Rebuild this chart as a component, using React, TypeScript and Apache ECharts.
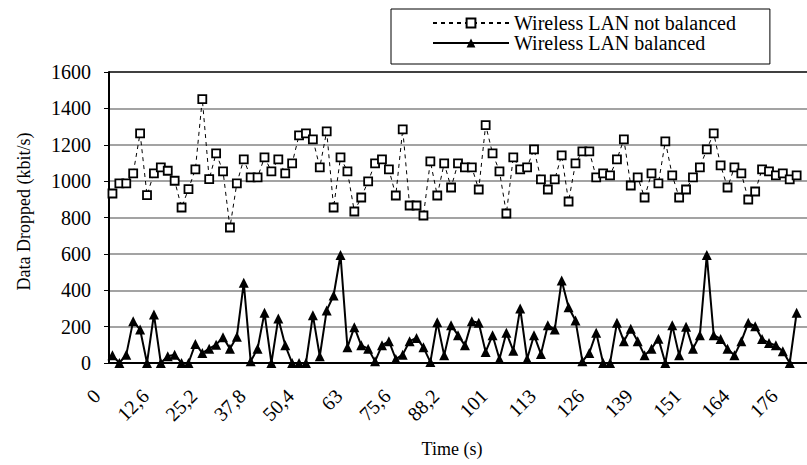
import React, { useEffect, useRef } from "react";
import * as echarts from "echarts";

// Time (s), one category every 1.8 s
const timeLabels = [
  "0", "1,8", "3,6", "5,4", "7,2", "9", "10,8", "12,6", "14,4", "16,2",
  "18", "19,8", "21,6", "23,4", "25,2", "27", "28,8", "30,6", "32,4", "34,2",
  "36", "37,8", "39,6", "41,4", "43,2", "45", "46,8", "48,6", "50,4", "52,2",
  "54", "55,8", "57,6", "59,4", "61,2", "63", "64,8", "66,6", "68,4", "70,2",
  "72", "73,8", "75,6", "77,4", "79,2", "81", "82,8", "84,6", "86,4", "88,2",
  "90", "91,8", "93,6", "95,4", "97,2", "99", "101", "103", "104", "106",
  "108", "110", "112", "113", "115", "117", "119", "121", "122", "124",
  "126", "128", "130", "131", "133", "135", "137", "139", "140", "142",
  "144", "146", "148", "149", "151", "153", "155", "157", "158", "160",
  "162", "164", "166", "167", "169", "171", "173", "175", "176", "178",
  "180",
];

const notBalanced = [
  932, 988, 988, 1043, 1263, 923, 1043, 1076, 1057, 1002,
  855, 956, 1065, 1451, 1011, 1153, 1054, 745, 988, 1120,
  1021, 1021, 1131, 1054, 1120, 1043, 1098, 1252, 1263, 1230,
  1076, 1274, 855, 1131, 1054, 833, 910, 999, 1098, 1120,
  1065, 921, 1285, 866, 866, 811, 1109, 921, 1098, 965,
  1098, 1076, 1076, 954, 1308, 1153, 1054, 822, 1131, 1065,
  1076, 1175, 1010, 954, 1010, 1142, 888, 1098, 1164, 1164,
  1021, 1043, 1032, 1120, 1230, 976, 1021, 910, 1043, 988,
  1219, 1032, 910, 954, 1021, 1076, 1175, 1263, 1087, 965,
  1076, 1043, 899, 943, 1065, 1054, 1032, 1043, 1010, 1032,
];

const balanced = [
  42, 0, 46, 230, 184, 0, 267, 0, 37, 46,
  0, 0, 105, 55, 79, 101, 142, 79, 145, 441,
  9, 79, 276, 0, 245, 97, 0, 0, 0, 263,
  37, 289, 371, 594, 86, 197, 97, 79, 9, 97,
  120, 22, 46, 120, 138, 86, 5, 224, 42, 208,
  153, 97, 230, 221, 61, 153, 22, 166, 68, 300,
  22, 153, 50, 208, 184, 454, 307, 234, 9, 55,
  166, 0, 0, 221, 120, 189, 120, 42, 79, 134,
  0, 208, 42, 199, 79, 153, 594, 153, 132, 79,
  42, 120, 221, 202, 132, 110, 97, 64, 0, 276,
];

const seriesNames = ["Wireless LAN not balanced", "Wireless LAN balanced"];

export default function App() {
  const ref = useRef<HTMLDivElement>(null);
  useEffect(() => {
    document.body.style.margin = "0";
    const chart = echarts.init(ref.current as HTMLDivElement, null, { renderer: "svg" });
    const font = "'Liberation Serif', 'Times New Roman', serif";
    const gridColors = ["#858585", "#858585", "#858585", "#858585", "#858585", "#858585", "#858585", "#858585", "#000000"];
    chart.setOption({
      animation: false,
      backgroundColor: "#ffffff",
      textStyle: { fontFamily: font, color: "#000" },
      grid: { left: 109, right: 0, top: 72, bottom: 102, containLabel: false },
      legend: {
        orient: "vertical",
        left: 391,
        top: 9,
        align: "left",
        padding: [4, 34, 11, 41],
        itemWidth: 76,
        itemHeight: 11,
        itemGap: 0,
        borderColor: "#000",
        borderWidth: 1,
        backgroundColor: "#fff",
        data: seriesNames,
        textStyle: { fontFamily: font, fontSize: 20, color: "#000", lineHeight: 20 },
      },
      xAxis: {
        type: "category",
        data: timeLabels,
        boundaryGap: true,
        name: "Time (s)",
        nameLocation: "middle",
        nameGap: 77,
        nameTextStyle: { fontFamily: font, fontSize: 18, color: "#000", padding: [0, 12, 0, 0] },
        axisLine: { lineStyle: { color: "#000", width: 2 } },
        axisTick: { interval: 6, length: 5, lineStyle: { color: "#000", width: 1 } },
        axisLabel: {
          interval: 6,
          rotate: 45,
          margin: 14,
          padding: [0, 22, 0, 0],
          fontFamily: font,
          fontSize: 20,
          color: "#000",
        },
        splitLine: { show: false },
      },
      yAxis: {
        type: "value",
        min: 0,
        max: 1600,
        interval: 200,
        name: "Data Dropped (kbit/s)",
        nameLocation: "middle",
        nameGap: 76,
        nameTextStyle: { fontFamily: font, fontSize: 18, color: "#000", padding: [0, 0, 0, 12] },
        axisLine: { show: true, lineStyle: { color: "#000", width: 2 } },
        axisTick: { show: true, length: 5, lineStyle: { color: "#000", width: 1 } },
        axisLabel: {
          margin: 18,
          fontFamily: font,
          fontSize: 20,
          color: "#000",
          formatter: (v: number) => String(v),
        },
        splitLine: { show: true, lineStyle: { color: gridColors, width: 1.5 } },
      },
      series: [
        {
          name: seriesNames[0],
          type: "line",
          data: notBalanced,
          symbol: "rect",
          symbolSize: 8,
          showAllSymbol: true,
          lineStyle: { color: "#000", width: 1, type: [4, 4] },
          itemStyle: { color: "#fff", borderColor: "#000", borderWidth: 1.8 },
          emphasis: { disabled: true },
          z: 3,
        },
        {
          name: seriesNames[1],
          type: "line",
          data: balanced,
          symbol: "triangle",
          symbolSize: 10,
          showAllSymbol: true,
          lineStyle: { color: "#000", width: 2 },
          itemStyle: { color: "#000" },
          emphasis: { disabled: true },
          z: 2,
        },
      ],
    });
    return () => chart.dispose();
  }, []);
  return <div ref={ref} style={{ width: 807, height: 465 }} />;
}
